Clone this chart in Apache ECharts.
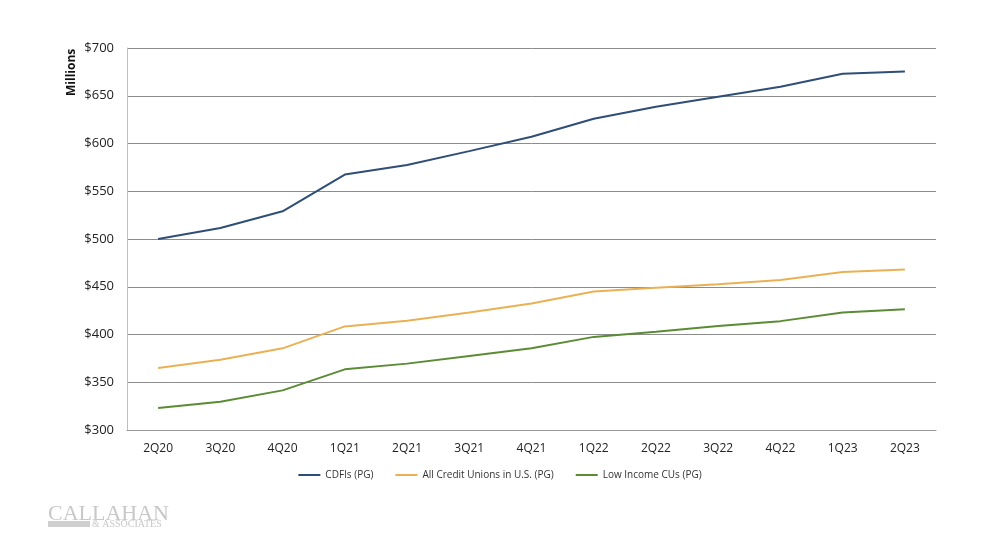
<!DOCTYPE html>
<html><head><meta charset="utf-8">
<script src="https://cdn.jsdelivr.net/npm/echarts@6/dist/echarts.min.js"></script>
<style>html,body{margin:0;padding:0;background:#fff}#c{width:1000px;height:543px}</style>
</head><body><div id="c"></div>
<script>
const categories = ['2Q20','3Q20','4Q20','1Q21','2Q21','3Q21','4Q21','1Q22','2Q22','3Q22','4Q22','1Q23','2Q23'];
const cdfis = [500, 511.5, 529, 567.5, 577.5, 592, 607, 626, 638.5, 649, 659.5, 673, 675.5];
const allCUs = [365, 373.5, 385.5, 408.5, 414.5, 423, 432.5, 445, 449, 452.5, 457, 465.5, 468];
const lowIncome = [323, 329.5, 341.5, 363.5, 369.5, 377.5, 385.5, 397.5, 403, 409, 414, 423, 426.5];
const seriesNames = ['CDFIs (PG)', 'All Credit Unions in U.S. (PG)', 'Low Income CUs (PG)'];
const colors = ['#2F4E76', '#EAB154', '#5B8C35'];

const chart = echarts.init(document.getElementById('c'));
const font = 'Open Sans, Liberation Sans, sans-serif';
chart.setOption({
  animation: false,
  grid: {left: 127, right: 64, top: 48, bottom: 113},
  legend: {
    bottom: 58, left: 'center',
    icon: 'rect', itemWidth: 22, itemHeight: 2, itemGap: 22, itemStyle: {borderWidth: 0},
    textStyle: {fontSize: 10, color: '#333', fontFamily: font},
    data: seriesNames
  },
  xAxis: {
    type: 'category', data: categories, boundaryGap: true,
    axisLine: {lineStyle: {color: '#999'}},
    axisTick: {show: false},
    axisLabel: {fontSize: 12, color: '#222', fontFamily: font, margin: 13}
  },
  yAxis: {
    type: 'value', min: 300, max: 700, interval: 50,
    axisLine: {show: true, lineStyle: {color: '#bfbfbf'}},
    axisTick: {show: false},
    axisLabel: {fontSize: 13, color: '#222', fontFamily: font, margin: 13, formatter: v => '$' + v},
    splitLine: {lineStyle: {color: '#8c8c8c', width: 1}}
  },
  graphic: [
    {type: 'text', x: 66, y: 96, rotation: Math.PI/2, style: {text: 'Millions', fontSize: 12, fontWeight: 'bold', fill: '#111', fontFamily: font}},
    {type: 'text', x: 48, y: 503, style: {text: 'CALLAHAN', fontSize: 22, fill: '#c8c8c8', fontFamily: 'Liberation Serif, DejaVu Serif, serif'}},
    {type: 'rect', shape: {x: 48, y: 521, width: 42, height: 6}, style: {fill: '#cfcfcf'}},
    {type: 'text', x: 92, y: 519, style: {text: '& ASSOCIATES', fontSize: 10, fill: '#c8c8c8', fontFamily: 'Liberation Serif, DejaVu Serif, serif'}}
  ],
  series: [
    {name: seriesNames[0], type: 'line', data: cdfis, showSymbol: false, lineStyle: {width: 2, color: colors[0]}, itemStyle: {color: colors[0]}},
    {name: seriesNames[1], type: 'line', data: allCUs, showSymbol: false, lineStyle: {width: 2, color: colors[1]}, itemStyle: {color: colors[1]}},
    {name: seriesNames[2], type: 'line', data: lowIncome, showSymbol: false, lineStyle: {width: 2, color: colors[2]}, itemStyle: {color: colors[2]}}
  ]
});
</script></body></html>
